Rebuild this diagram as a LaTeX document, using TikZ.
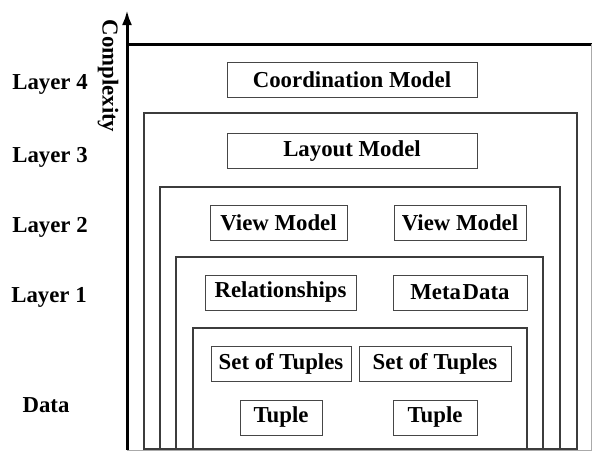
\documentclass[tikz,border=0pt]{standalone}
\usepackage{fontspec}
\setmainfont{Liberation Serif}
\usepackage{xcolor}
\definecolor{framegray}{RGB}{60, 60, 60}
\definecolor{boxgray}{RGB}{70, 70, 70}
\definecolor{edgegray}{RGB}{170, 170, 170}
\usepackage{tikz}
\usetikzlibrary{positioning, arrows.meta, calc}

\begin{document}
\begin{tikzpicture}[x=0.5pt, y=-0.5pt, >={Latex[length=7.5pt, width=5pt]},
    every node/.style={font=\fontsize{11.4}{13}\selectfont\bfseries},
    modelbox/.style={draw=boxgray, line width=0.5pt, rectangle, minimum height=17.5pt, inner sep=2pt},
    layer/.style={draw=framegray, line width=0.55pt}]
    \useasboundingbox (0,0) rectangle (592,451);

    % Complexity axis
    \coordinate (origin) at (127,450);
    \coordinate (peak) at (127,10);
    \draw [->, line width=1.5pt] (origin) -- (peak);
    \node [rotate=-90] (complexity) at (108,76) {Complexity};

    % Outer frame (Layer 4)
    \draw [line width=1.5pt] (126.5,44) -- (592,44);
    \draw [edgegray, line width=0.5pt] (591.5,44) -- (591.5,450) -- (127,450);

    % Nested layer frames
    \draw [layer] (144,449) rectangle (577,113);
    \draw [layer] (160,449) rectangle (560,187);
    \draw [layer] (176,449) rectangle (543,257);
    \draw [layer] (193,449) rectangle (527,328);

    % Layer names
    \node (lay4) at (50,84) {Layer 4};
    \node (lay3) at (50,157) {Layer 3};
    \node (lay2) at (50,227) {Layer 2};
    \node (lay1) at (49,297) {Layer 1};
    \node (data) at (46,405) {Data};

    % Layer 4 and 3
    \node [modelbox, minimum width=125pt] (coord) at (352,80) {Coordination Model};
    \node [modelbox, minimum width=125pt] (layout) at (352,151) {Layout Model};

    % Layer 2
    \node [modelbox, minimum width=68.5pt] (view1) at (278.5,222.5) {View Model};
    \node [modelbox, minimum width=66pt] (view2) at (460,222.5) {View Model};

    % Layer 1
    \node [modelbox, minimum width=75.5pt] (rel) at (280.5,292.5) {Relationships};
    \node [modelbox, minimum width=67pt] (meta) at (460,292.5) {Meta\kern0.8ptData};

    % Data
    \node [modelbox, minimum width=70pt] (set1) at (281,364) {Set of Tuples};
    \node [modelbox, minimum width=76pt] (set2) at (435,364) {Set of Tuples};
    \node [modelbox, minimum width=41pt] (tuple1) at (281,417.5) {Tuple};
    \node [modelbox, minimum width=42pt] (tuple2) at (435,417.5) {Tuple};
\end{tikzpicture}
\end{document}
